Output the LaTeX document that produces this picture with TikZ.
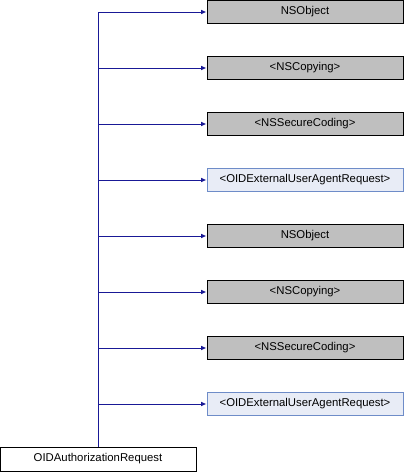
\documentclass[tikz,border=0pt]{standalone}
\usepackage{fontspec}
\setmainfont{Liberation Sans}
\usetikzlibrary{arrows.meta}
\definecolor{edgeblue}{RGB}{25,25,150}
\definecolor{extfill}{RGB}{232,236,246}
\definecolor{extdraw}{RGB}{110,140,200}
\definecolor{basefill}{RGB}{191,191,191}
\tikzset{
  classbox/.style={draw=black,line width=0.75pt,minimum width=147pt,minimum height=17.25pt,inner sep=0,font=\fontsize{8.5pt}{10pt}\selectfont},
  basebox/.style={classbox,fill=basefill},
  extbox/.style={classbox,fill=extfill,draw=extdraw},
  inherit/.style={draw=edgeblue,line width=0.75pt,-{Latex[length=4pt,width=3.5pt]}}
}
\begin{document}
\begin{tikzpicture}[x=0.75pt,y=-0.75pt]
    \pgfmathsetmacro{\boxx}{305}
    \pgfmathsetmacro{\rowgap}{56}
    \useasboundingbox (0,0) rectangle (404,472);
    % base classes and protocols, top to bottom
    \node[basebox] (obja) at (\boxx,12) {NSObject};
    \node[basebox] (copya) at (\boxx,12+\rowgap) {<NSCopying>};
    \node[basebox] (codinga) at (\boxx,12+2*\rowgap) {<NSSecureCoding>};
    \node[extbox] (agenta) at (\boxx,12+3*\rowgap) {<OIDExternalUserAgentRequest>};
    \node[basebox] (objb) at (\boxx,12+4*\rowgap) {NSObject};
    \node[basebox] (copyb) at (\boxx,12+5*\rowgap) {<NSCopying>};
    \node[basebox] (codingb) at (\boxx,12+6*\rowgap) {<NSSecureCoding>};
    \node[extbox] (agentb) at (\boxx,12+7*\rowgap) {<OIDExternalUserAgentRequest>};
    % the class itself
    \node[classbox,fill=white,minimum height=18pt] (authreq) at (98,459) {OIDAuthorizationRequest};
    \foreach \parent in {obja,copya,codinga,agenta,objb,copyb,codingb,agentb}
        \draw[inherit] (authreq.north) |- (\parent.west);
\end{tikzpicture}
\end{document}
